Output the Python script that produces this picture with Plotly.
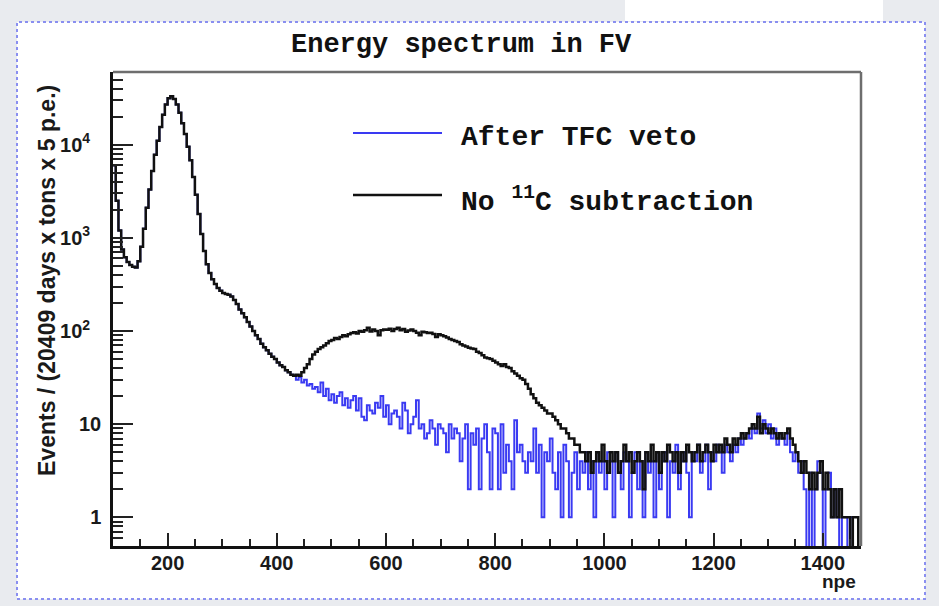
import numpy as np
import plotly.graph_objects as go

# ---------------- data (events per 5 p.e. bin, bins start at 100 npe) ----------------
bin_start = 100
bin_width = 5

# 100 ... 425 npe : identical for both selections
common_low = [
    6000, 2500, 1200, 750, 620, 550, 510, 490, 480, 560,
    800, 1250, 2100, 3300, 5200, 7800, 11000, 15500, 21000, 27000,
    31500, 33000, 31000, 27000, 22000, 17000, 13000, 9500, 6800, 4500,
    2900, 1800, 1100, 720, 520, 420, 360, 320, 290, 270,
    255, 250, 245, 235, 215, 195, 170, 155, 140, 125,
    112, 100, 90, 82, 73, 67, 62, 57, 53, 50,
    46, 43, 41, 38, 36, 34,
]

# 430 ... 955 npe
no_c11_mid = [
    33, 34, 33, 36, 40, 44, 50, 56, 60, 64,
    67, 70, 74, 78, 80, 84, 82, 86, 90, 88,
    92, 95, 97, 94, 100, 98, 102, 108, 99, 104,
    100, 90, 102, 104, 103, 106, 100, 105, 108, 102,
    105, 98, 101, 104, 100, 96, 90, 98, 97, 95,
    96, 93, 86, 92, 90, 88, 85, 82, 80, 78,
    76, 72, 70, 68, 66, 65, 64, 60, 58, 55,
    52, 51, 50, 48, 46, 44, 42, 44, 41, 40,
    37, 35, 33, 31, 30, 27, 24, 21, 19, 17,
    16, 15, 14, 13, 13, 12, 11, 10, 9, 9,
    8, 7, 7, 6, 6, 5,
]
after_tfc_mid = [
    33, 30, 32, 28, 30, 26, 27, 24, 25, 22,
    28, 20, 24, 18, 21, 17, 20, 22, 16, 19,
    15, 18, 20, 14, 19, 12, 11, 16, 14, 13,
    17, 15, 20, 12, 16, 10, 13, 14, 12, 9,
    17, 14, 8, 10, 12, 18, 9, 10, 7, 8,
    11, 9, 6, 10, 9, 8, 5, 10, 7, 9,
    8, 4, 7, 10, 2, 8, 6, 9, 2, 7,
    10, 5, 2, 9, 8, 2, 10, 3, 6, 4,
    2, 11, 5, 6, 4, 3, 5, 4, 9, 3,
    6, 1, 5, 4, 7, 3, 2, 5, 1, 6,
    4, 1, 3, 5, 2, 4,
]

# 960 ... 1465 npe
no_c11_high = [
    5, 4, 5, 3, 4, 5, 4, 6, 4, 3,
    5, 4, 5, 3, 4, 6, 4, 5, 3, 4,
    5, 4, 2, 5, 4, 6, 4, 5, 3, 5,
    4, 6, 5, 4, 5, 3, 5, 4, 6, 5,
    4, 5, 6, 4, 5, 6, 5, 4, 6, 5,
    6, 5, 7, 6, 5, 7, 6, 7, 8, 7,
    8, 9, 10, 9, 12, 8, 10, 9, 8, 9,
    8, 7, 8, 7, 8, 9, 7, 6, 5, 4,
    3, 4, 3, 2, 3, 2, 3, 4, 2, 3,
    2, 1, 2, 1, 2, 1, 1, 1, 0, 1,
    1, 0,
]
after_tfc_high = [
    3, 5, 2, 4, 1, 5, 3, 4, 2, 5,
    4, 1, 5, 3, 2, 5, 4, 1, 3, 5,
    2, 4, 1, 5, 3, 4, 1, 5, 2, 4,
    5, 1, 4, 3, 6, 2, 4, 5, 3, 1,
    5, 4, 6, 3, 4, 6, 2, 5, 4, 6,
    5, 3, 6, 5, 4, 6, 5, 7, 6, 7,
    8, 7, 9, 8, 13, 9, 11, 8, 10, 7,
    9, 6, 8, 7, 6, 8, 5, 4, 5, 3,
    4, 2, 0, 3, 0, 2, 4, 3, 0, 2,
    3, 1, 2, 1, 0, 1, 1, 0, 1, 0,
    0, 0,
]

x_ticks = [200, 400, 600, 800, 1000, 1200, 1400]
y_ticks = [1, 10, 100, 1000, 10000]
y_tick_text = ["1", "10", "10<sup>2</sup>\u00a0\u00a0", "10<sup>3</sup>\u00a0\u00a0", "10<sup>4</sup>\u00a0\u00a0"]

# ---------------- build histograms ----------------
no_c11 = np.array(common_low + no_c11_mid + no_c11_high, dtype=float)
after_tfc = np.array(common_low + after_tfc_mid + after_tfc_high, dtype=float)
edges = bin_start + bin_width * np.arange(len(no_c11) + 1)
x_end = edges[-1]


def step_y(v):
    v = np.where(v > 0, v, 0.05)  # empty bins drop below the frame as in ROOT
    return np.append(v, v[-1])


# layout geometry (pixels of 939x606 page)
W, H = 939, 606
L, R, T, B = 113, 861, 72, 546


def px(x):
    return (x - L) / (R - L)


def py(y):
    return (B - y) / (B - T)


fig = go.Figure()
fig.add_trace(go.Scatter(x=edges, y=step_y(after_tfc), mode="lines", line_shape="hv",
                         line=dict(color="#3a3af2", width=2), name="After TFC veto",
                         showlegend=False))
fig.add_trace(go.Scatter(x=edges, y=step_y(no_c11), mode="lines", line_shape="hv",
                         line=dict(color="#111111", width=2.5), name="No 11C subtraction",
                         showlegend=False))
# invisible trace on overlay axis for minor log ticks
fig.add_trace(go.Scatter(x=[edges[0]], y=[1], yaxis="y2", mode="markers",
                         marker=dict(opacity=0), showlegend=False, hoverinfo="skip"))

ymin, ymax = -0.308, 4.78
minor_vals = [k * 10.0 ** n for n in range(-1, 5) for k in range(2, 10)
              if ymin < np.log10(k * 10.0 ** n) < ymax]

tick_font = dict(family="Liberation Sans", size=20, color="#1a1a1a", weight="bold")

fig.update_layout(
    width=W, height=H,
    margin=dict(l=L, r=W - R, t=T, b=H - B, pad=0),
    paper_bgcolor="#e9ebef",
    plot_bgcolor="rgba(0,0,0,0)",
    xaxis=dict(range=[bin_start, x_end], tickvals=x_ticks, ticks="inside", ticklen=13,
               tickwidth=1.5, tickcolor="#222", showline=True, linecolor="#111", linewidth=2.5,
               showgrid=False, zeroline=False, tickfont=tick_font, ticklabelstandoff=-3,
               minor=dict(ticks="inside", ticklen=7, dtick=50, tickcolor="#222", tickwidth=1.5,
                          showgrid=False)),
    yaxis=dict(type="log", range=[ymin, ymax], tickvals=y_ticks, ticktext=y_tick_text,
               ticks="inside", ticklen=20, tickwidth=1.5, tickcolor="#222",
               showline=True, linecolor="#111", linewidth=2.5, showgrid=False, zeroline=False,
               tickfont=tick_font, ticklabelstandoff=5),
    yaxis2=dict(type="log", range=[ymin, ymax], overlaying="y", side="left",
                tickvals=minor_vals, ticks="inside", ticklen=10, tickwidth=1.5,
                tickcolor="#222", showticklabels=False, showgrid=False, showline=False,
                zeroline=False),
    showlegend=False,
)

shapes = [
    # slide canvas with dotted blue border
    dict(type="rect", xref="paper", yref="paper", x0=px(17), x1=px(925), y0=py(599), y1=py(22),
         fillcolor="white", line=dict(color="#8a8ff0", width=2, dash="dot"), layer="below"),
    dict(type="rect", xref="paper", yref="paper", x0=px(625), x1=px(883), y0=py(21), y1=py(0),
         fillcolor="white", line=dict(width=0), layer="below"),
    # top and right frame
    dict(type="line", xref="paper", yref="paper", x0=0, x1=1, y0=1, y1=1,
         line=dict(color="#6e6e6e", width=2.5)),
    dict(type="line", xref="paper", yref="paper", x0=1, x1=1, y0=0, y1=1,
         line=dict(color="#6e6e6e", width=2.5)),
    # legend samples
    dict(type="line", xref="paper", yref="paper", x0=px(353), x1=px(442), y0=py(133), y1=py(133),
         line=dict(color="#3a3af2", width=2)),
    dict(type="line", xref="paper", yref="paper", x0=px(353), x1=px(442), y0=py(195), y1=py(195),
         line=dict(color="#111111", width=2.5)),
]
fig.update_layout(shapes=shapes)

mono = dict(family="Liberation Mono", size=28, color="#111", weight="bold")
annotations = [
    dict(text="Energy spectrum in FV", x=px(461), y=py(45), font=dict(mono, size=27)),
    dict(text="After TFC veto", x=px(459), y=py(137), xanchor="left", font=mono),
    dict(text="No <sup>11</sup>C subtraction", x=px(459), y=py(200), xanchor="left", font=mono),
    dict(text="Events / (20409 days x tons x 5 p.e.)", x=px(47), y=py(281), textangle=-90,
         font=dict(family="Liberation Sans", size=23, color="#1a1a1a", weight="bold")),
    dict(text="npe", x=px(839), y=py(581), font=dict(tick_font, size=19)),
]
for a in annotations:
    a.setdefault("xanchor", "center")
    a.update(xref="paper", yref="paper", yanchor="middle", showarrow=False)
fig.update_layout(annotations=annotations)

fig.write_html("out.html")
